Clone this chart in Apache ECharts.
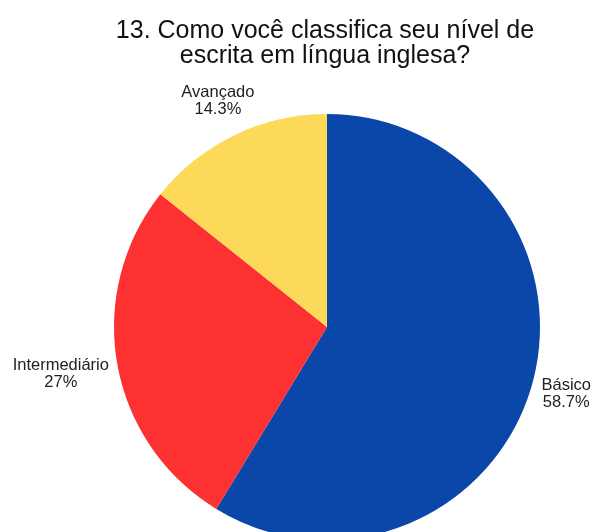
<!DOCTYPE html>
<html>
<head>
<meta charset="utf-8">
<script src="https://cdn.jsdelivr.net/npm/echarts@6/dist/echarts.min.js"></script>
<style>
  html, body { margin: 0; padding: 0; background: #fff; }
  #chart { width: 592px; height: 532px; }
</style>
</head>
<body>
<div id="chart"></div>
<script>
// Writing-level survey answers (percent of respondents)
const categories = ['Básico', 'Intermediário', 'Avançado'];
const values = [58.7, 27, 14.3];
const colors = ['#0b47a8', '#fd3131', '#fdd95a'];

const CENTER = [327, 327];
const RADIUS = 213;
const LABEL_GAP = 7;

const chart = echarts.init(document.getElementById('chart'));

// Mid angle of each slice, clockwise from 12 o'clock
const total = values.reduce((a, b) => a + b, 0);
const midAngles = [];
let acc = 0;
values.forEach(v => {
  midAngles.push((acc + v / 2) / total * Math.PI * 2);
  acc += v;
});

chart.setOption({
  animation: false,
  backgroundColor: '#ffffff',
  title: {
    text: '13. Como você classifica seu nível de\nescrita em língua inglesa?',
    left: 320,
    top: 14,
    textAlign: 'center',
    textStyle: {
      fontFamily: 'Liberation Sans, Arial, sans-serif',
      fontSize: 25,
      fontWeight: 'normal',
      color: '#111',
      lineHeight: 25
    }
  },
  series: [{
    type: 'pie',
    center: CENTER,
    radius: RADIUS,
    startAngle: 90,
    clockwise: true,
    avoidLabelOverlap: false,
    data: categories.map((name, i) => ({
      name: name,
      value: values[i],
      itemStyle: { color: colors[i] }
    })),
    label: {
      show: true,
      position: 'outside',
      formatter: p => p.name + '\n' + p.value + '%',
      fontFamily: 'Liberation Sans, Arial, sans-serif',
      fontSize: 16.5,
      lineHeight: 17,
      color: '#222'
    },
    labelLine: { show: false },
    // Centre each label block just outside the rim, along the slice's mid direction
    labelLayout: params => {
      const a = midAngles[params.dataIndex];
      const ux = Math.sin(a), uy = -Math.cos(a);
      const w = params.labelRect.width, h = params.labelRect.height;
      const d = RADIUS + LABEL_GAP + (Math.abs(ux) * w + Math.abs(uy) * h) / 2;
      return {
        x: CENTER[0] + ux * d,
        y: CENTER[1] + uy * d,
        align: 'center',
        verticalAlign: 'middle'
      };
    }
  }]
});
</script>
</body>
</html>
